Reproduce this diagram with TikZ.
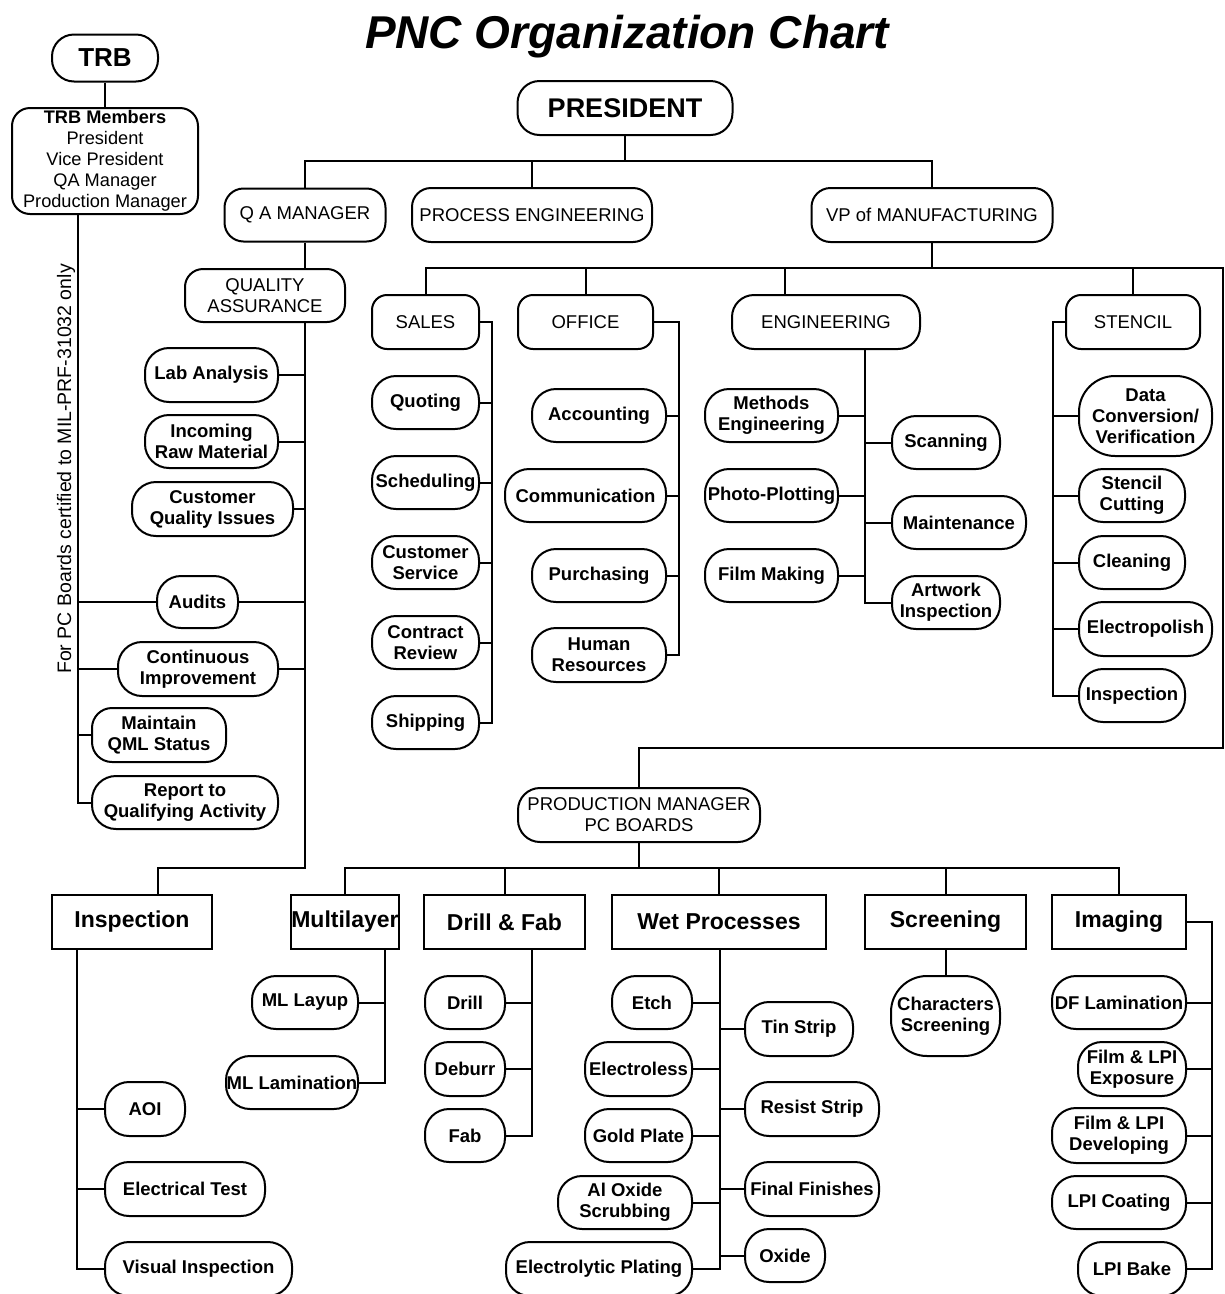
\documentclass[tikz,border=0pt]{standalone}
\usepackage{fontspec}
\setmainfont{Liberation Sans}
\newcommand\ftop{\fontsize{18.5}{21}\selectfont}
\newcommand\fsub{\fontsize{18.5}{21}\selectfont\bfseries}
\newcommand\fbig{\fontsize{23}{26}\selectfont\bfseries}
\begin{document}
\begin{tikzpicture}[x=1pt,y=-1pt,line width=2pt,
  hd/.style={draw,rounded corners=19pt,align=center,inner sep=0pt,font=\ftop},
  it/.style={draw,rounded corners=24pt,align=center,inner sep=0pt,font=\fsub},
  rb/.style={draw,align=center,inner sep=0pt,font=\fbig},
  wh/.style 2 args={minimum width=#1pt,minimum height=#2pt}]
\fill[white] (0,0) rectangle (1225,1294);
\useasboundingbox (0,0) rectangle (1225,1294);
% title
\node[font=\fontsize{46}{50}\selectfont\bfseries\itshape,anchor=base,inner sep=0pt] (title) at (627,48) {PNC Organization Chart};
% TRB
\node[hd,wh={106}{47},rounded corners=22pt,font=\fontsize{26}{30}\selectfont\bfseries] (trb) at (105,58) {TRB};
\node[hd,wh={186}{106},rounded corners=18pt,font=\fontsize{18.2}{21}\selectfont] (trbm) at (105,161) {\textbf{TRB Members}\\President\\Vice President\\QA Manager\\Production Manager};
\node[rotate=90,font=\fontsize{19.5}{21}\selectfont,inner sep=0pt] (cert) at (66,469) {For PC Boards certified to MIL-PRF-31032 only};
% top level
\node[hd,wh={215}{54},rounded corners=22pt,font=\fontsize{27}{30}\selectfont\bfseries] (pres) at (625,108) {PRESIDENT};
\node[hd,wh={161}{53}] (qam) at (305,215) {Q A MANAGER};
\node[hd,wh={240}{54}] (proc) at (532,215) {PROCESS ENGINEERING};
\node[hd,wh={241}{54}] (vp) at (932,215) {VP of MANUFACTURING};
\node[hd,wh={160}{53},rounded corners=18pt] (qa) at (265,295.5) {QUALITY\\ASSURANCE};
% QA items
\node[it,wh={133}{54}] (lab) at (211.5,375) {Lab Analysis};
\node[it,wh={133}{53}] (inc) at (211.5,441.5) {Incoming\\Raw Material};
\node[it,wh={161}{54}] (cqi) at (212.5,509) {Customer\\Quality Issues};
\node[it,wh={81}{52}] (aud) at (197.5,602) {Audits};
\node[it,wh={160}{54}] (ci) at (198,669) {Continuous\\Improvement};
\node[it,wh={134}{54},rounded corners=20pt] (qml) at (159,735) {Maintain\\QML Status};
\node[it,wh={186}{53}] (rep) at (185,802.5) {Report to\\Qualifying Activity};
% second level
\node[hd,wh={107}{54},rounded corners=15pt] (sales) at (425.5,322) {SALES};
\node[hd,wh={135}{54},rounded corners=15pt] (office) at (585.5,322) {OFFICE};
\node[hd,wh={188}{54},rounded corners=22pt] (eng) at (826,322) {ENGINEERING};
\node[hd,wh={134}{54},rounded corners=15pt] (stencil) at (1133,322) {STENCIL};
% sales items
\node[it,wh={107}{53}] (quo) at (425.5,402.5) {Quoting};
\node[it,wh={107}{53}] (sch) at (425.5,482.5) {Scheduling};
\node[it,wh={107}{53}] (cs) at (425.5,562.5) {Customer\\Service};
\node[it,wh={107}{53}] (cr) at (425.5,642.5) {Contract\\Review};
\node[it,wh={107}{53}] (ship) at (425.5,722.5) {Shipping};
% office items
\node[it,wh={134}{53}] (acc) at (599,415.5) {Accounting};
\node[it,wh={161}{53}] (com) at (585.5,495.5) {Communication};
\node[it,wh={134}{53}] (pur) at (599,575.5) {Purchasing};
\node[it,wh={134}{54}] (hr) at (599,655) {Human\\Resources};
% engineering items
\node[it,wh={133}{53}] (meth) at (771.5,415.5) {Methods\\Engineering};
\node[it,wh={133}{53}] (photo) at (771.5,495.5) {Photo-Plotting};
\node[it,wh={133}{53}] (film) at (771.5,575.5) {Film Making};
\node[it,wh={108}{53}] (scan) at (946,442.5) {Scanning};
\node[it,wh={134}{53}] (maint) at (959,522.5) {Maintenance};
\node[it,wh={108}{53}] (art) at (946,602.5) {Artwork\\Inspection};
% stencil items
\node[it,wh={133}{80},rounded corners=36pt] (dcv) at (1145.5,416) {Data\\Conversion/\\Verification};
\node[it,wh={106}{53}] (scut) at (1132,495.5) {Stencil\\Cutting};
\node[it,wh={106}{53}] (clean) at (1132,562.5) {Cleaning};
\node[it,wh={133}{54}] (epol) at (1145.5,629) {Electropolish};
\node[it,wh={106}{53}] (sinsp) at (1132,695.5) {Inspection};
% production manager
\node[hd,wh={242}{54},rounded corners=22pt] (pm) at (639,815) {PRODUCTION MANAGER\\PC BOARDS};
% bottom headers
\node[rb,wh={160}{54}] (insp) at (132,922) {Inspection};
\node[rb,wh={106}{54}] (ml) at (345,922) {Multilayer};
\node[rb,wh={161}{54}] (dfab) at (504.5,922) {Drill \& Fab};
\node[rb,wh={214}{54}] (wet) at (719,922) {Wet Processes};
\node[rb,wh={161}{54}] (scr) at (945.5,922) {Screening};
\node[rb,wh={134}{54}] (img) at (1119,922) {Imaging};
% inspection items
\node[it,wh={80}{54}] (aoi) at (145,1109) {AOI};
\node[it,wh={160}{54}] (etest) at (185,1189) {Electrical Test};
\node[it,wh={187}{54}] (vis) at (198.5,1269) {Visual Inspection};
% multilayer items
\node[it,wh={106}{53}] (mll) at (305,1002.5) {ML Layup};
\node[it,wh={132}{53}] (mllam) at (292,1082.5) {ML Lamination};
% drill items
\node[it,wh={80}{53}] (drill) at (465,1002.5) {Drill};
\node[it,wh={80}{54}] (deb) at (465,1069) {Deburr};
\node[it,wh={80}{53}] (fab) at (465,1135.5) {Fab};
% wet items
\node[it,wh={80}{53}] (etch) at (652,1002.5) {Etch};
\node[it,wh={107}{54}] (eless) at (638.5,1069) {Electroless};
\node[it,wh={107}{53}] (gold) at (638.5,1135.5) {Gold Plate};
\node[it,wh={134}{53}] (alox) at (625,1202.5) {Al Oxide\\Scrubbing};
\node[it,wh={186}{54}] (eplat) at (599,1269) {Electrolytic Plating};
\node[it,wh={108}{54}] (tin) at (799,1029) {Tin Strip};
\node[it,wh={134}{54}] (resist) at (812,1109) {Resist Strip};
\node[it,wh={134}{54}] (ff) at (812,1189) {Final Finishes};
\node[it,wh={80}{53}] (oxide) at (785,1255.5) {Oxide};
% screening
\node[it,wh={109}{80},rounded corners=36pt] (chs) at (945.5,1016) {Characters\\Screening};
% imaging items
\node[it,wh={134}{53}] (dfl) at (1119,1002.5) {DF Lamination};
\node[it,wh={108}{54}] (fle) at (1132,1069) {Film \& LPI\\Exposure};
\node[it,wh={134}{55}] (fld) at (1119,1135.5) {Film \& LPI\\Developing};
\node[it,wh={134}{53}] (lpic) at (1119,1202.5) {LPI Coating};
\node[it,wh={108}{54}] (lpib) at (1132,1269) {LPI Bake};

% bus coordinates
\coordinate (pbus) at (0,161);
\coordinate (lbus) at (78,0);
\coordinate (qabus) at (305,868);
\coordinate (inspdrop) at (158,868);
\coordinate (vpbus) at (0,268);
\coordinate (engdrop) at (785,268);
\coordinate (rbus) at (1223,268);
\coordinate (rcorner) at (1223,748);
\coordinate (sbus) at (492,0);
\coordinate (obus) at (679,0);
\coordinate (ebus) at (865,0);
\coordinate (stbus) at (1053,0);
\coordinate (pmbus) at (0,868);
\coordinate (ibus) at (77,0);
\coordinate (mlbus) at (385,0);
\coordinate (dbus) at (532,0);
\coordinate (wbus) at (720,0);
\coordinate (imbus) at (1212,0);

% TRB
\draw (trb.south) -- (trbm.north);
\draw (trbm.south -| lbus) -- (rep.west -| lbus) -- (rep.west);
\draw (aud.west -| lbus) -- (aud.west);
\draw (ci.west -| lbus) -- (ci.west);
\draw (qml.west -| lbus) -- (qml.west);
% president
\draw (pres.south) -- (pres.south |- pbus);
\draw (qam.north) -- (qam.north |- pbus) -- (vp.north |- pbus) -- (vp.north);
\draw (proc.north) -- (proc.north |- pbus);
% QA
\draw (qam.south) -- (qam.south |- qa.north);
\draw (qam.south |- qa.south) -- (qabus) -- (inspdrop) -- (inspdrop |- insp.north);
\foreach \n in {lab,inc,cqi,aud,ci} \draw (\n.east) -- (\n.east -| qabus);
% VP
\draw (vp.south) -- (vp.south |- vpbus);
\draw (sales.north) -- (sales.north |- vpbus) -- (rbus) -- (rcorner) -- (rcorner -| pm.north) -- (pm.north);
\draw (office.north) -- (office.north |- vpbus);
\draw (engdrop) -- (engdrop |- eng.north);
\draw (stencil.north) -- (stencil.north |- vpbus);
% sales
\draw (sales.east) -- (sales.east -| sbus) -- (ship.east -| sbus) -- (ship.east);
\foreach \n in {quo,sch,cs,cr} \draw (\n.east) -- (\n.east -| sbus);
% office
\draw (office.east) -- (office.east -| obus) -- (hr.east -| obus) -- (hr.east);
\foreach \n in {acc,com,pur} \draw (\n.east) -- (\n.east -| obus);
% engineering
\draw (eng.south -| ebus) -- (art.west -| ebus) -- (art.west);
\foreach \n in {meth,photo,film} \draw (\n.east) -- (\n.east -| ebus);
\foreach \n in {scan,maint} \draw (\n.west) -- (\n.west -| ebus);
% stencil
\draw (stencil.west) -- (stencil.west -| stbus) -- (sinsp.west -| stbus) -- (sinsp.west);
\foreach \n in {dcv,scut,clean,epol} \draw (\n.west) -- (\n.west -| stbus);
% production manager
\draw (pm.south) -- (pm.south |- pmbus);
\draw (ml.north) -- (ml.north |- pmbus) -- (img.north |- pmbus) -- (img.north);
\draw (dfab.north) -- (dfab.north |- pmbus);
\draw (wet.north) -- (wet.north |- pmbus);
\draw (scr.north) -- (scr.north |- pmbus);
% inspection
\draw (insp.south -| ibus) -- (vis.west -| ibus) -- (vis.west);
\foreach \n in {aoi,etest} \draw (\n.west) -- (\n.west -| ibus);
% multilayer
\draw (ml.south -| mlbus) -- (mllam.east -| mlbus) -- (mllam.east);
\draw (mll.east) -- (mll.east -| mlbus);
% drill
\draw (dfab.south -| dbus) -- (fab.east -| dbus) -- (fab.east);
\foreach \n in {drill,deb} \draw (\n.east) -- (\n.east -| dbus);
% wet
\draw (wet.south -| wbus) -- (eplat.east -| wbus) -- (eplat.east);
\foreach \n in {etch,eless,gold,alox} \draw (\n.east) -- (\n.east -| wbus);
\foreach \n in {tin,resist,ff,oxide} \draw (\n.west) -- (\n.west -| wbus);
% screening
\draw (scr.south) -- (chs.north);
% imaging
\draw (img.east) -- (img.east -| imbus) -- (lpib.east -| imbus) -- (lpib.east);
\foreach \n in {dfl,fle,fld,lpic} \draw (\n.east) -- (\n.east -| imbus);
\end{tikzpicture}
\end{document}
